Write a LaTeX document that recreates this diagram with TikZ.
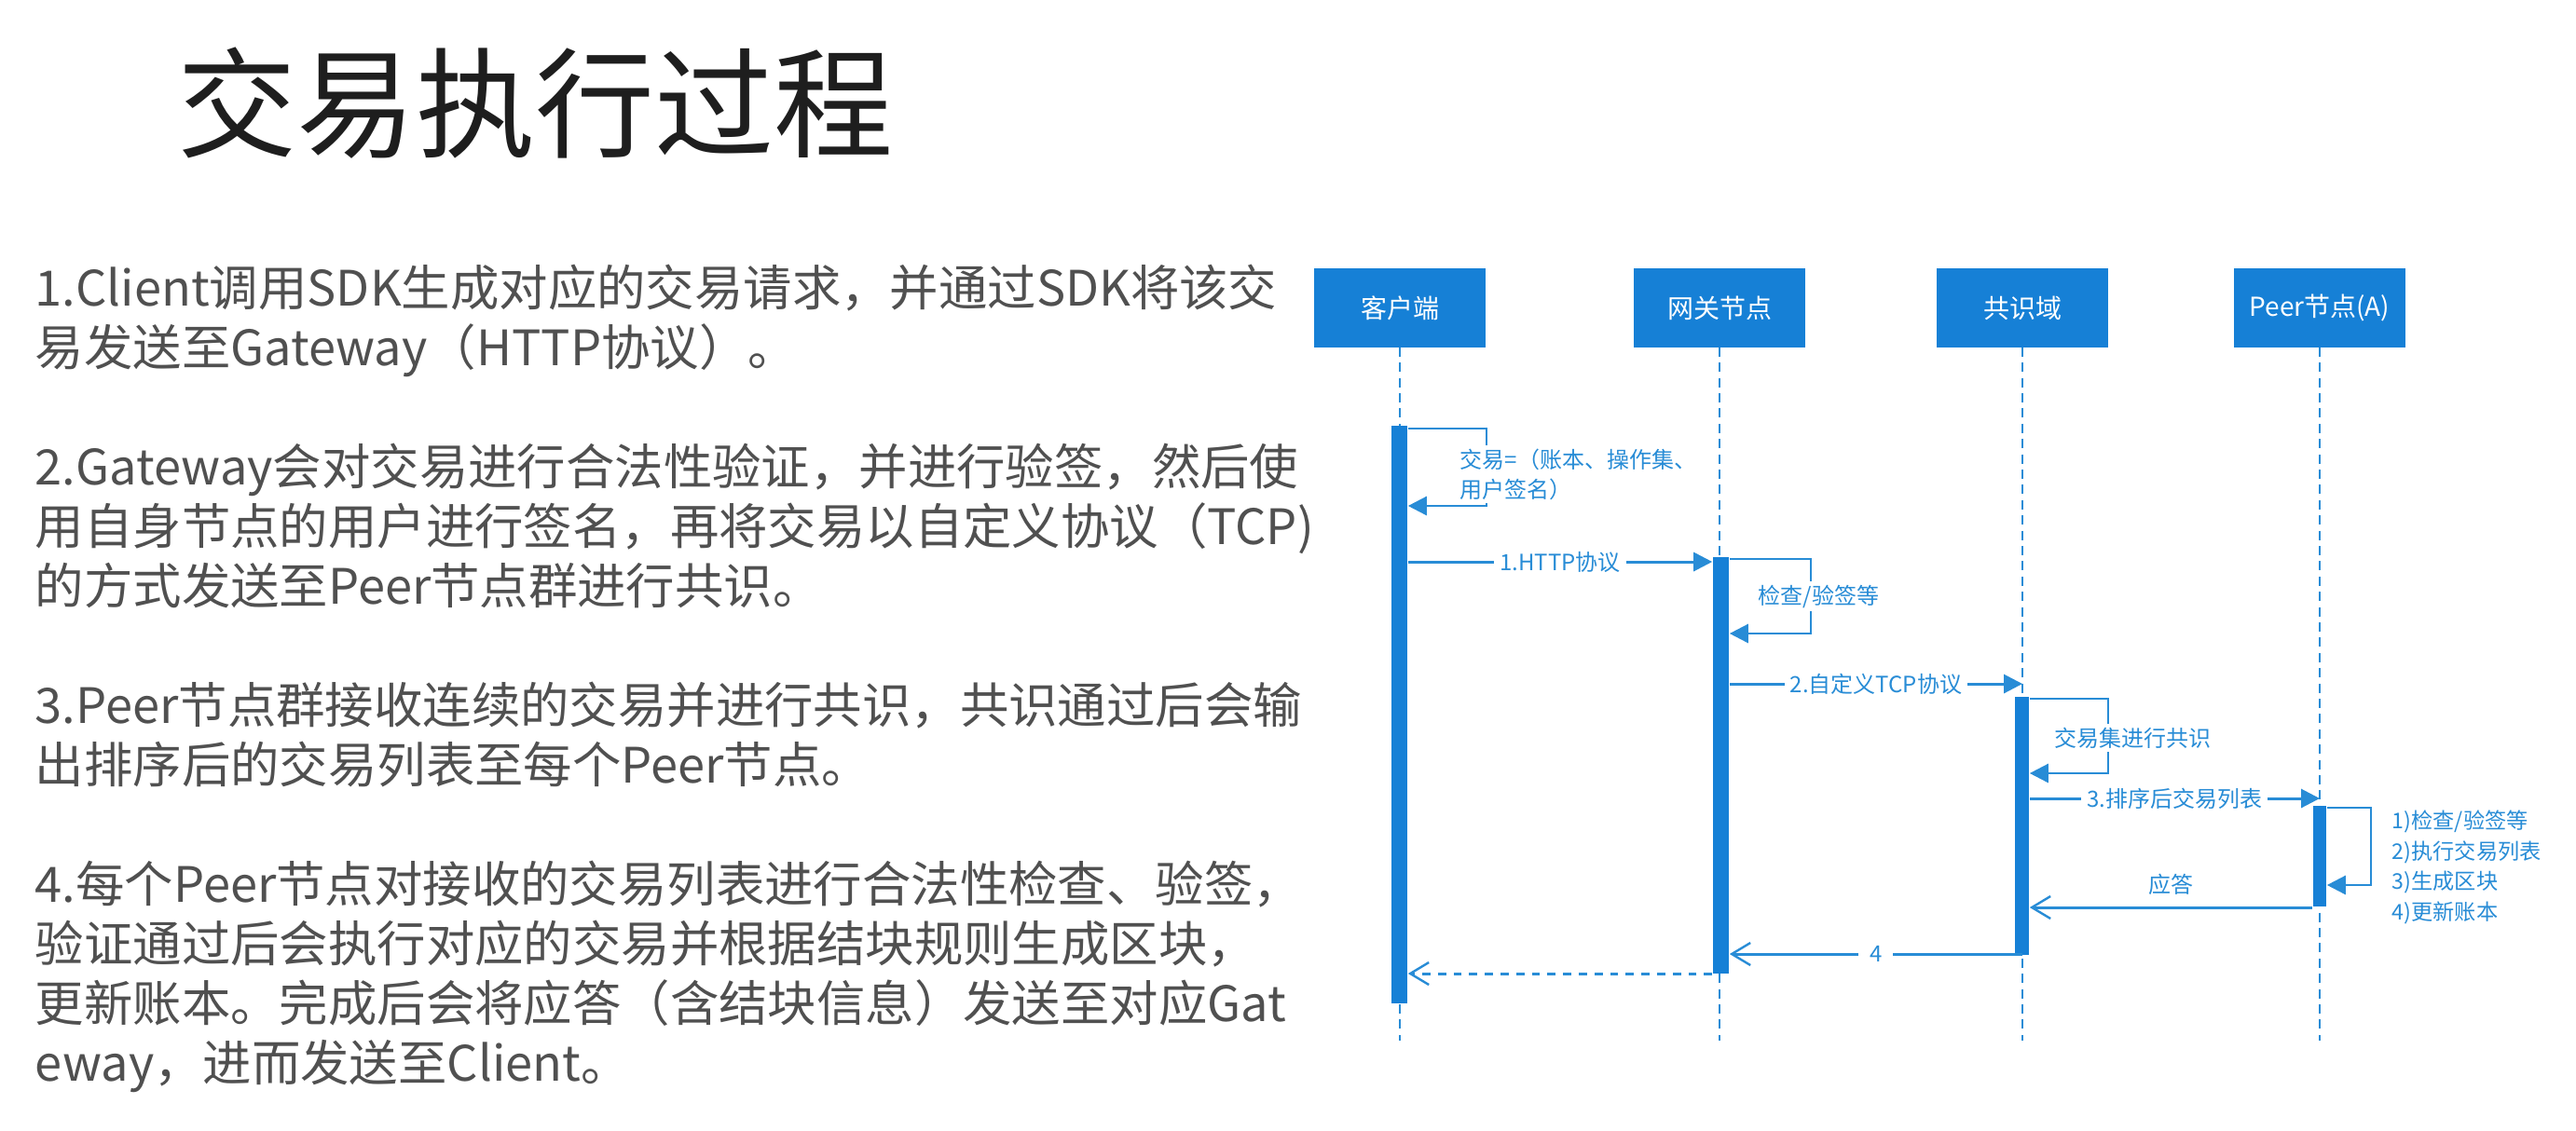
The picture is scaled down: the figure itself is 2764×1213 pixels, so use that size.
\documentclass[tikz,border=0pt]{standalone}
\usepackage{fontspec}
\setmainfont{Noto Sans CJK SC}
\usetikzlibrary{arrows.meta,fit}
\definecolor{boxblue}{RGB}{22,128,214}
\definecolor{lineblue}{RGB}{40,140,214}
\definecolor{bodytext}{RGB}{80,80,80}
\definecolor{titletext}{RGB}{30,30,30}
\begin{document}
\begin{tikzpicture}[x=0.25pt,y=-0.25pt,
  actor/.style={draw=boxblue,fill=boxblue,text=white,minimum width=45.75pt,minimum height=20.75pt,inner sep=0pt,font=\fontsize{7}{8}\selectfont},
  lifeln/.style={draw=lineblue,line width=0.5pt,dash pattern=on 2.5pt off 1.6pt},
  actbar/.style={fill=boxblue,draw=none,inner sep=0pt},
  msg/.style={draw=lineblue,line width=0.75pt,-{Triangle[length=5pt,width=5pt]}},
  selfmsg/.style={draw=lineblue,line width=0.65pt,-{Triangle[length=5pt,width=5pt]}},
  reply/.style={draw=lineblue,line width=0.75pt,-{Straight Barb[length=5pt,width=6pt,line width=0.6pt]}},
  retmsg/.style={reply,dash pattern=on 2.2pt off 2pt},
  mlabel/.style={fill=white,text=lineblue,inner sep=1.5pt,font=\fontsize{6}{8}\selectfont},
  body/.style={anchor=base west,inner sep=0pt,text=bodytext,font=\fontsize{13.1}{16}\selectfont},
]
\fill[white] (0,0) rectangle (2764,1213);
\useasboundingbox (0,0) rectangle (2764,1213);

% title
\node[anchor=base west,inner sep=0pt,text=titletext,font=\fontsize{32}{36}\selectfont] (title) at (190,159) {交易执行过程};

% body text
\node[body] (t1) at (37,328) {1.Client调用SDK生成对应的交易请求，并通过SDK将该交};
\node[body] (t2) at (37,392) {易发送至Gateway（HTTP协议）。};
\node[body] (t3) at (37,520) {2.Gateway会对交易进行合法性验证，并进行验签，然后使};
\node[body] (t4) at (37,584) {用自身节点的用户进行签名，再将交易以自定义协议（TCP)};
\node[body] (t5) at (37,648) {的方式发送至Peer节点群进行共识。};
\node[body] (t6) at (37,776) {3.Peer节点群接收连续的交易并进行共识，共识通过后会输};
\node[body] (t7) at (37,840) {出排序后的交易列表至每个Peer节点。};
\node[body] (t8) at (37,968) {4.每个Peer节点对接收的交易列表进行合法性检查、验签，};
\node[body] (t9) at (37,1032) {验证通过后会执行对应的交易并根据结块规则生成区块，};
\node[body] (t10) at (37,1096) {更新账本。完成后会将应答（含结块信息）发送至对应Gat};
\node[body] (t11) at (37,1160) {eway，进而发送至Client。};

% actors
\node[actor] (client) at (1502,330.5) {客户端};
\node[actor] (gate) at (1845,330.5) {网关节点};
\node[actor] (cons) at (2170,330.5) {共识域};
\node[actor] (peer) at (2489,330.5) {Peer节点(A)};

% lifelines
\draw[lifeln] (client.south) -- (client.south |- 0,1117);
\draw[lifeln] (gate.south) -- (gate.south |- 0,1117);
\draw[lifeln] (cons.south) -- (cons.south |- 0,1117);
\draw[lifeln] (peer.south) -- (peer.south |- 0,1117);

% activation bars
\node[actbar, fit={(1493,457)(1510,1077)}] (cbar) {};
\node[actbar, fit={(1838,598)(1855,1045)}] (gbar) {};
\node[actbar, fit={(2162,748)(2177,1025)}] (kbar) {};
\node[actbar, fit={(2482,865)(2496,973)}] (pbar) {};

% client self message
\draw[selfmsg] (cbar.east |- 0,460) -| (1595,543) -- (cbar.east |- 0,543);
\node[mlabel,anchor=west,align=left,inner sep=1pt] (l0) at (1562,509) {交易=（账本、操作集、\\用户签名）};

% 1. HTTP
\draw[msg] (cbar.east |- 0,603) -- node[mlabel] (l1) {1.HTTP协议} (gbar.west |- 0,603);

% gateway self
\draw[selfmsg] (gbar.east |- 0,600) -| (1943,680) -- (gbar.east |- 0,680);
\node[mlabel,anchor=west,inner sep=1pt] (l2) at (1882,640) {检查/验签等};

% 2. TCP
\draw[msg] (gbar.east |- 0,734) -- node[mlabel] (l3) {2.自定义TCP协议} (cons.south |- 0,734);

% consensus self
\draw[selfmsg] (kbar.east |- 0,750) -| (2262,830) -- (kbar.east |- 0,830);
\node[mlabel,anchor=west,inner sep=1pt] (l4) at (2200,792) {交易集进行共识};

% 3. ordered list
\draw[msg] (kbar.east |- 0,857) -- node[mlabel] (l5) {3.排序后交易列表} (peer.south |- 0,857);

% peer self
\draw[selfmsg] (pbar.east |- 0,867) -| (2544,950) -- (pbar.east |- 0,950);
\node[anchor=west,align=left,inner sep=0pt,text=lineblue,font=\fontsize{5.8}{8.1}\selectfont] (notes) at (2566,931) {1)检查/验签等\\2)执行交易列表\\3)生成区块\\4)更新账本};

% reply
\draw[reply] (pbar.west |- 0,974) -- node[above=2pt,text=lineblue,inner sep=1pt,font=\fontsize{6}{8}\selectfont] (l6) {应答} (kbar.east |- 0,974);

% 4
\draw[reply] (kbar.center |- 0,1024) -- node[mlabel,inner sep=3pt] (l7) {4} (gbar.east |- 0,1024);

% return
\draw[retmsg] (gbar.west |- 0,1045) -- (cbar.east |- 0,1045);
\end{tikzpicture}
\end{document}
